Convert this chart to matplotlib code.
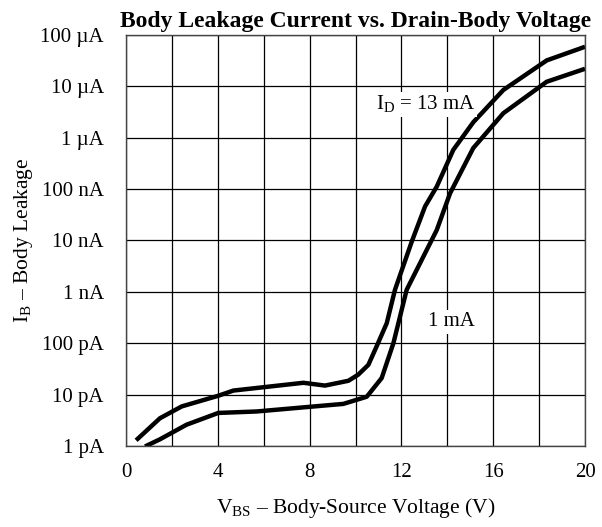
import numpy as np
import matplotlib as mpl
mpl.use('Agg')
import matplotlib.pyplot as plt

# I_D = 13 mA curve (left / upper)
v_13 = [0.44, 1.48, 2.43, 4.02, 4.68, 7.73, 8.67, 9.69, 10.12, 10.56, 10.92, 11.36,
        11.72, 12.45, 13.03, 13.54, 14.26, 15.13, 16.44, 18.33, 20.0]
i_13 = [1.29e-12, 3.47e-12, 5.9e-12, 9.5e-12, 1.2e-11, 1.7e-11, 1.5e-11, 1.86e-11,
        2.45e-11, 3.8e-11, 8.7e-11, 2.45e-10, 1.1e-9, 9.5e-9, 4.6e-8, 1.12e-7,
        5.8e-7, 2.0e-6, 8.5e-6, 3.2e-5, 5.9e-5]

# I_D = 1 mA curve (right / lower)
v_1 = [0.83, 1.48, 2.64, 4.02, 5.69, 8.02, 9.47, 10.49, 11.14, 11.65, 12.23, 12.81,
       13.54, 14.12, 15.13, 16.44, 18.33, 20.0]
i_1 = [0.98e-12, 1.35e-12, 2.6e-12, 4.4e-12, 4.7e-12, 5.8e-12, 6.6e-12, 9.1e-12,
       2.1e-11, 1.0e-10, 1.1e-9, 3.6e-9, 1.6e-8, 8.3e-8, 6.3e-7, 3.0e-6, 1.23e-5, 2.2e-5]

y_ticks = [1e-12, 1e-11, 1e-10, 1e-9, 1e-8, 1e-7, 1e-6, 1e-5, 1e-4]
y_labels = ['1 pA', '10 pA', '100 pA', '1 nA', '10 nA', '100 nA', '1 µA', '10 µA', '100 µA']
x_ticks = [0, 4, 8, 12, 16, 20]

mpl.rcParams['font.family'] = 'Liberation Serif'
mpl.rcParams['mathtext.fontset'] = 'custom'
mpl.rcParams['mathtext.rm'] = 'Liberation Serif'
mpl.rcParams['font.size'] = 15

fig = plt.figure(figsize=(6.02, 5.27), dpi=100)
ax = fig.add_axes([0.2093, 0.1537, 0.7625, 0.7799])

ax.plot(v_13, i_13, color='black', linewidth=3.2, solid_capstyle='butt')
ax.plot(v_1, i_1, color='black', linewidth=3.2, solid_capstyle='butt')

ax.set_yscale('log')
ax.set_xlim(0, 20)
ax.set_ylim(1e-12, 1e-4)
ax.set_yticks(y_ticks)
ax.set_yticklabels(y_labels)
ax.yaxis.set_minor_locator(mpl.ticker.NullLocator())
ax.set_xticks(x_ticks)
ax.set_xticks(np.arange(0, 21, 2), minor=True)
ax.tick_params(which='both', length=0, labelsize=15)
ax.tick_params(axis='y', pad=16)
ax.tick_params(axis='x', pad=12)
ax.grid(which='both', color='black', linewidth=0.9)
for s in ax.spines.values():
    s.set_linewidth(1.0)
    s.set_color('#444444')

ax.text(13.07, 4.4e-6, r'I$_\mathregular{D}$ = 13 mA', fontsize=15, ha='center', va='center',
        bbox=dict(facecolor='white', edgecolor='none', pad=1))
ax.text(14.2, 2.6e-10, '1 mA', fontsize=15, ha='center', va='center',
        bbox=dict(facecolor='white', edgecolor='none', pad=2))

ax.set_title('Body Leakage Current vs. Drain-Body Voltage', fontsize=17, fontweight='bold', pad=6)
ax.set_xlabel(r'V$_\mathregular{BS}$ – Body-Source Voltage (V)', fontsize=15.5, labelpad=10)
ax.set_ylabel(r'I$_\mathregular{B}$ – Body Leakage', fontsize=15.5, labelpad=4)

fig.savefig('out.png', dpi=100)
